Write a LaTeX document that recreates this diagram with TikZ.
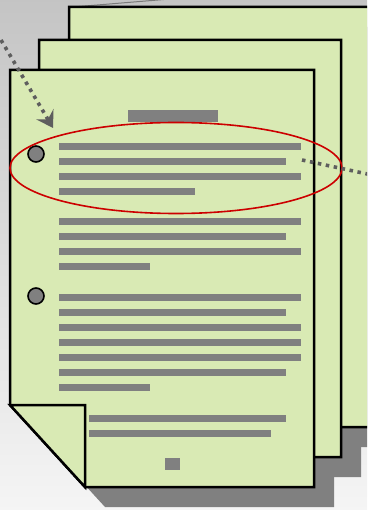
\documentclass[tikz,border=0pt]{standalone}
\usepackage{tikz}
\usetikzlibrary{positioning,shapes.geometric,arrows.meta,calc}
\definecolor{ink}      {HTML}{000000}
\definecolor{paper}    {HTML}{D9EAB4}
\definecolor{bargray}  {HTML}{808080}
\definecolor{markred}  {HTML}{CC0000}
\definecolor{dotgray}  {HTML}{5E5E5E}
\definecolor{wiregray} {HTML}{7A7A7A}
\tikzset{
  >=stealth,
  % --- sheets
  page/.style    = {draw=ink, fill=paper, line width=2.5pt, line join=miter},
  pshadow/.style = {fill=bargray, draw=none},
  bar/.style     = {fill=bargray, draw=none},
  hole/.style    = {circle, draw=ink, fill=bargray, line width=1.6pt,
                    minimum size=16pt, inner sep=0pt},
  highlight/.style = {ellipse, draw=markred, line width=1.6pt,
                    minimum width=332pt, minimum height=91pt, inner sep=0pt},
  % --- edges
  dotted line/.style = {draw=dotgray, line width=3.6pt,
                    dash pattern=on 3.5pt off 4.6pt},
  wire/.style    = {draw=wiregray, line width=1pt},
}

\begin{document}
\begin{tikzpicture}[x=1pt,y=-1pt]
  \clip (0,0) rectangle (367,510);
  \shade[top color=black!23, bottom color=black!4] (0,0) rectangle (367,510);
  % wire at the top
  \coordinate (w0) at (73,7);
  \coordinate (w1) at (170,-1);
  \draw[wire] (w0) -- (w1);
  % shadows of the three sheets (left, top, right, bottom)
  \foreach \l/\t/\r/\b in {69/7/400/427, 39/40/341/457, 10/70/314/487}
  {
    \fill[pshadow] (\l+20,\t+20) -- (\r+20,\t+20) -- (\r+20,\b+20)
      -- (\l+95,\b+20) -- (\l+20,\b-62) -- cycle;
  }
  % sheets, back to front, with folded corner
  \foreach \l/\t/\r/\b in {69/7/400/427, 39/40/341/457, 10/70/314/487}
  {
    \draw[page] (\l,\t) -- (\r,\t) -- (\r,\b) -- (\l+75,\b) -- (\l,\b-82) -- cycle;
  }
  \draw[page] (10,405) -- (85,405) -- (85,487) -- cycle;
  % title
  \fill[bar] (128,110) rectangle (218,122);
  % text lines
  \foreach \y/\w in {
    143/301, 158/286, 173/301, 188/195,
    218/301, 233/286, 248/301, 263/150,
    294/301, 309/286, 324/301, 339/301, 354/301, 369/286, 384/150}
  {
    \fill[bar] (59,\y) rectangle (\w,\y+7);
  }
  \foreach \y/\w in {415/286, 430/271}
  {
    \fill[bar] (89,\y) rectangle (\w,\y+7);
  }
  \fill[bar] (165,458) rectangle (180,470);
  % punch holes
  \node[hole] (hole1) at (36,154) {};
  \node[hole] (hole2) at (36,296) {};
  % marked paragraph
  \node[highlight] (focus) at (176,168) {};
  % pointers
  \coordinate (inA) at (1,40);
  \coordinate (tipA) at (53,128);
  \draw[dotted line, -{Stealth[length=16pt,width=20pt,inset=6pt]}] (inA) -- (tipA);
  \coordinate (outB) at (302,160);
  \coordinate (endB) at (372,175);
  \draw[dotted line] (outB) -- (endB);
\end{tikzpicture}
\end{document}
